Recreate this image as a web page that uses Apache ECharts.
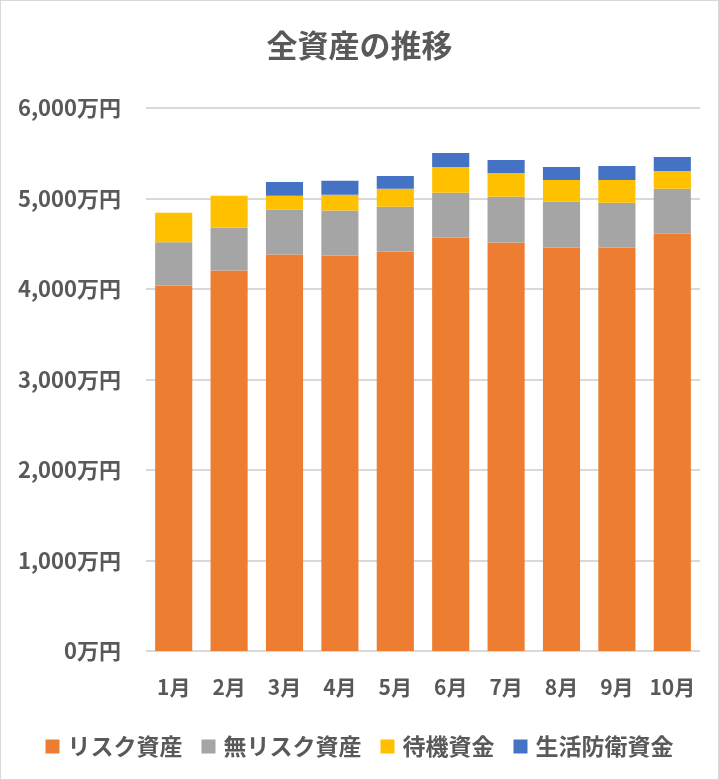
<!DOCTYPE html>
<html><head><meta charset="utf-8">
<script src="https://cdn.jsdelivr.net/npm/echarts@6/dist/echarts.min.js"></script>
<style>html,body{margin:0;padding:0;background:#fff}#c{width:719px;height:780px;box-sizing:border-box;border:1px solid #d9d9d9}</style>
</head><body><div id="c"></div>
<script>
const categories = ['1月','2月','3月','4月','5月','6月','7月','8月','9月','10月'];
const riskAssets = [4040, 4205, 4381, 4370, 4414, 4568, 4513, 4458, 4458, 4612];
const noRiskAssets = [476, 473, 495, 498, 495, 495, 506, 506, 495, 495];
const standbyFunds = [327, 352, 154, 173, 198, 285, 263, 241, 252, 197];
const lifeDefenseFunds = [0, 0, 153, 154, 142, 154, 143, 143, 154, 154];
const seriesNames = ['リスク資産','無リスク資産','待機資金','生活防衛資金'];
const colors = ['#ED7D31','#A5A5A5','#FFC000','#4472C4'];
const font = '"Noto Sans CJK JP", sans-serif';
const chart = echarts.init(document.getElementById('c'));
const dataSets = [riskAssets, noRiskAssets, standbyFunds, lifeDefenseFunds];
chart.setOption({
  animation: false,
  title: {text: '全資産の推移', left: 'center', top: 24, textStyle: {fontFamily: font, fontSize: 31, fontWeight: 'bold', color: '#595959'}},
  legend: {bottom: 16, left: 'center', itemWidth: 14, itemHeight: 14, itemGap: 19, icon: 'rect',
    textStyle: {fontFamily: font, fontSize: 23, fontWeight: 'bold', color: '#595959', padding: [0, 0, 0, 3]}, data: seriesNames},
  grid: {left: 145, right: 18, top: 107, bottom: 128},
  xAxis: {type: 'category', data: categories, axisLine: {show: false}, axisTick: {show: false},
    axisLabel: {interval: 0, fontFamily: font, fontSize: 21, fontWeight: 'bold', color: '#595959', margin: 26}},
  yAxis: {type: 'value', min: 0, max: 6000, interval: 1000, axisLine: {show: false}, axisTick: {show: false},
    splitLine: {lineStyle: {color: '#D9D9D9', width: 2}},
    axisLabel: {fontFamily: font, fontSize: 22, fontWeight: 'bold', color: '#595959', margin: 25,
      formatter: v => v.toLocaleString('en-US') + '万円'}},
  series: dataSets.map((d, i) => ({name: seriesNames[i], type: 'bar', stack: 'total', data: d, barWidth: '67%',
    itemStyle: {color: colors[i]}}))
});
</script></body></html>
